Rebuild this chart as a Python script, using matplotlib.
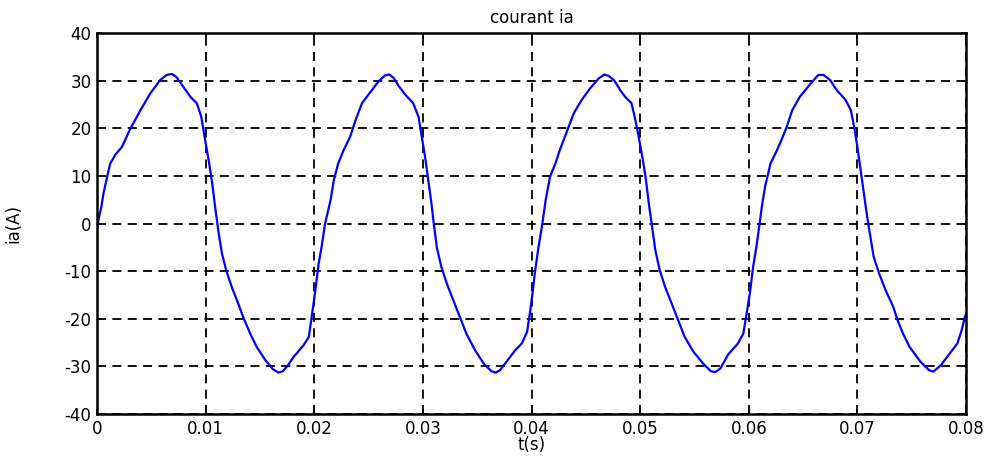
import matplotlib
matplotlib.use('Agg')
import matplotlib.pyplot as plt
import numpy as np

plt.rcParams['font.family'] = ['DejaVu Sans']
plt.rcParams['axes.unicode_minus'] = False

# phase current ia, sampled from the simulation trace (t in s, ia in A)
t_s = [
    0.0000, 0.0002, 0.0004, 0.0006, 0.0009, 0.0012, 0.0017, 0.0023, 0.0030, 0.0040,
    0.0049, 0.0058, 0.0064, 0.0069, 0.0073, 0.0078, 0.0086, 0.0092, 0.0096, 0.0099,
    0.0103, 0.0106, 0.0109, 0.0112, 0.0115, 0.0119, 0.0124, 0.0130, 0.0135, 0.0141,
    0.0147, 0.0155, 0.0162, 0.0167, 0.0171, 0.0175, 0.0181, 0.0190, 0.0195, 0.0198,
    0.0201, 0.0204, 0.0207, 0.0210,
    0.0215, 0.0218, 0.0222, 0.0227, 0.0233, 0.0238, 0.0244, 0.0251, 0.0259, 0.0265,
    0.0269, 0.0273, 0.0277, 0.0284, 0.0291, 0.0296, 0.0299, 0.0302, 0.0305, 0.0308,
    0.0310, 0.0313, 0.0317, 0.0322, 0.0328, 0.0334, 0.0340, 0.0348, 0.0356, 0.0363,
    0.0367, 0.0371, 0.0377, 0.0385, 0.0391, 0.0396, 0.0399, 0.0401, 0.0403, 0.0406,
    0.0410,
    0.0413, 0.0417, 0.0422, 0.0426, 0.0432, 0.0439, 0.0446, 0.0454, 0.0462, 0.0467,
    0.0471, 0.0476, 0.0482, 0.0487, 0.0492, 0.0495, 0.0498, 0.0502, 0.0505, 0.0508,
    0.0511, 0.0514, 0.0518, 0.0523, 0.0529, 0.0535, 0.0541, 0.0549, 0.0558, 0.0565,
    0.0569, 0.0574, 0.0581, 0.0590, 0.0595, 0.0598, 0.0601, 0.0604, 0.0607, 0.0610,
    0.0612, 0.0615, 0.0620, 0.0626, 0.0630, 0.0635, 0.0640, 0.0647, 0.0657, 0.0664,
    0.0669, 0.0675, 0.0681, 0.0689, 0.0694, 0.0697, 0.0700, 0.0703, 0.0706, 0.0709,
    0.0712, 0.0715, 0.0720, 0.0726, 0.0733, 0.0737, 0.0742, 0.0748, 0.0758, 0.0766,
    0.0770, 0.0777, 0.0785, 0.0792, 0.0796, 0.0799, 0.0800,
]
ia = [
    -1.0, 1.5, 3.5, 6.4, 9.5, 12.5, 14.5, 16.1, 19.6, 23.8,
    27.3, 30.1, 31.2, 31.4, 30.8, 29.2, 26.6, 25.2, 22.4, 18.2,
    13.0, 8.5, 3.0, -2.0, -6.3, -9.9, -13.3, -16.8, -19.9, -23.1,
    -25.9, -28.7, -30.6, -31.3, -31.0, -30.0, -28.0, -25.6, -23.8, -19.0,
    -14.0, -8.5, -4.5, 0.0,
    4.9, 9.1, 12.6, 15.4, 18.2, 21.7, 25.3, 27.4, 29.8, 31.1,
    31.3, 30.6, 29.1, 27.0, 25.3, 22.4, 18.2, 14.0, 9.0, 4.0,
    0.0, -5.2, -9.1, -12.6, -16.1, -19.6, -23.1, -26.6, -29.4, -31.0,
    -31.3, -30.8, -29.0, -26.6, -25.2, -22.7, -18.0, -14.5, -10.5, -5.6,
    0.0,
    4.9, 9.8, 12.6, 15.4, 19.0, 23.2, 25.9, 28.4, 30.5, 31.3,
    31.0, 30.1, 27.9, 26.4, 25.3, 22.4, 19.0, 14.0, 9.8, 4.2,
    -0.7, -5.6, -9.8, -13.3, -16.8, -20.3, -23.8, -26.9, -29.4, -31.0,
    -31.2, -30.4, -27.5, -25.2, -23.1, -18.9, -14.7, -9.1, -4.9, 0.0,
    3.5, 7.7, 12.6, 15.4, 17.5, 20.3, 23.8, 26.6, 29.4, 31.2,
    31.2, 30.1, 28.0, 26.0, 23.8, 20.3, 16.1, 11.2, 6.3, 1.4,
    -2.8, -7.0, -10.5, -14.0, -17.5, -20.3, -23.1, -25.9, -29.0, -30.8,
    -31.1, -29.7, -27.3, -25.2, -22.4, -19.6, -19.0,
]

xticks = [0, 0.01, 0.02, 0.03, 0.04, 0.05, 0.06, 0.07, 0.08]
xticklabels = ['0', '0.01', '0.02', '0.03', '0.04', '0.05', '0.06', '0.07', '0.08']
yticks = [-40, -30, -20, -10, 0, 10, 20, 30, 40]

fig = plt.figure(figsize=(9.92, 4.59), dpi=100)
ax = fig.add_axes([0.0978, 0.098, 0.876, 0.830])

ax.plot(t_s, ia, color='#0000ff', linewidth=1.6)

ax.set_xlim(0, 0.08)
ax.set_ylim(-40, 40)
ax.set_xticks(xticks)
ax.set_xticklabels(xticklabels)
ax.set_yticks(yticks)
ax.set_yticklabels([str(v) for v in yticks])

ax.grid(True, color='black', linestyle=(0, (5, 3.5)), linewidth=1.3)
ax.tick_params(direction='in', length=3.5, width=1.4, top=True, right=True,
               labelsize=12, pad=4)
for s in ax.spines.values():
    s.set_linewidth(1.8)

ax.set_title('courant ia', fontsize=12, pad=7)
ax.set_xlabel('t(s)', fontsize=12, labelpad=-1)
ax.set_ylabel('ia(A)', fontsize=12, labelpad=30)

fig.savefig('out.png', dpi=100)
